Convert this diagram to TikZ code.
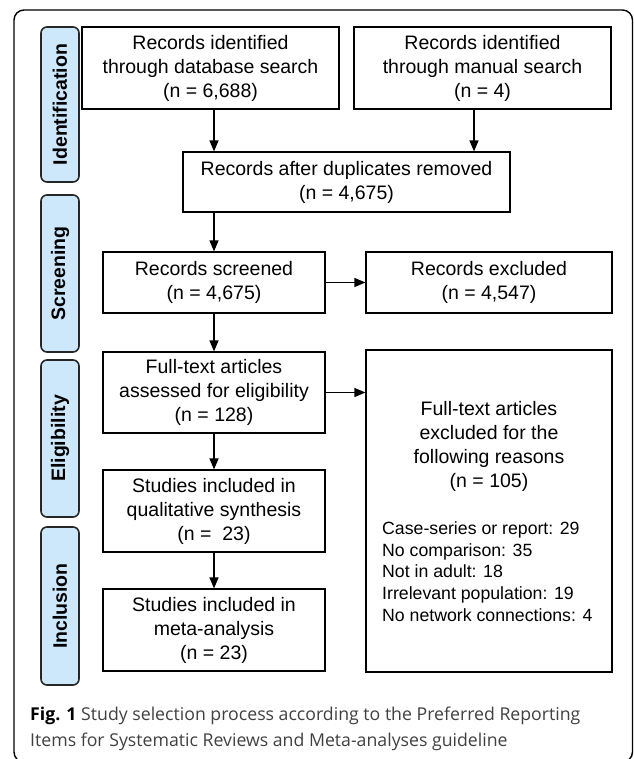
\documentclass[tikz,border=0pt]{standalone}
\usepackage{fontspec}
\setmainfont{Liberation Sans}
\newfontfamily\capfont{Open Sans}
\usetikzlibrary{arrows.meta}
\definecolor{sidefill}{RGB}{204,232,250}
\definecolor{captext}{RGB}{64,64,64}
\tikzstyle{box}=[draw, line width=1.2pt, inner sep=0pt, align=center, font=\fontsize{19.5}{24}\selectfont]
\tikzstyle{side}=[draw=black!85, fill=sidefill, line width=1.6pt, rounded corners=6pt, rotate=90, minimum height=38, inner sep=0pt, font=\fontsize{19.5}{24}\selectfont\bfseries]
\tikzstyle{arr}=[line width=1.3pt, -{Triangle[length=11pt, width=9pt]}]
\tikzstyle{frame}=[line width=1.4pt, rounded corners=10pt]
\tikzstyle{capline}=[anchor=base west, inner sep=0pt, text=captext, font=\capfont\fontsize{17.7}{26}\selectfont]

\begin{document}
\begin{tikzpicture}[x=1pt, y=-1pt]
\useasboundingbox (0,0) rectangle (633,759);
\draw [frame] (14,10) rectangle (632.5,762);

\coordinate (cdb) at (210.5, 68);
\coordinate (cman) at (482.5, 68);
\coordinate (cdup) at (346.5, 182);
\coordinate (cscr) at (214, 282.5);
\coordinate (cexc) at (489, 282.5);
\coordinate (cft) at (214, 392.5);
\coordinate (crsn) at (489, 511);
\coordinate (cqual) at (214, 511);
\coordinate (cmeta) at (214, 630);
\coordinate (mx) at (474, 0);

% phases
\draw (60, 104.5) node (ident) [side, minimum width=155] {Identification};
\draw (60, 273.5) node (screen) [side, minimum width=157] {Screening};
\draw (60, 438.5) node (elig) [side, minimum width=157] {Eligibility};
\draw (60, 606) node (incl) [side, minimum width=158] {Inclusion};

% boxes
\draw (cdb) node (db) [box, minimum width=257, minimum height=82] {Records identified\\through database search\\(n = 6,688)};
\draw (cman) node (man) [box, minimum width=257, minimum height=82] {Records identified\\through manual search\\(n = 4)};
\draw (cdup) node (dup) [box, minimum width=327, minimum height=60] {Records after duplicates removed\\(n = 4,675)};
\draw (cscr) node (scr) [box, minimum width=222, minimum height=61] {Records screened\\(n = 4,675)};
\draw (cexc) node (exc) [box, minimum width=246, minimum height=61] {Records excluded\\(n = 4,547)};
\draw (cft) node (ft) [box, minimum width=222, minimum height=81] {Full-text articles\\assessed for eligibility\\(n = 128)};
\draw (cqual) node (qual) [box, minimum width=222, minimum height=82] {Studies included in\\qualitative synthesis\\(n = \ 23)};
\draw (cmeta) node (meta) [box, minimum width=222, minimum height=82] {Studies included in\\meta-analysis\\(n = 23)};
\draw (crsn) node (rsn) [box, minimum width=246, minimum height=322] {};
\draw (489, 446) node (rsnhead) [align=center, inner sep=0pt, font=\fontsize{19.5}{24}\selectfont] {Full-text articles\\excluded for the\\following reasons\\(n = 105)};
\draw (382, 571.5) node (rsnlist) [anchor=west, align=left, inner sep=0pt, font=\fontsize{17.7}{21.7}\selectfont] {Case-series or report: 29\\No comparison: 35\\Not in adult: 18\\Irrelevant population: 19\\No network connections: 4};

% arrows
\draw [arr] (db.south -| scr) -- (dup.north -| scr);
\draw [arr] (man.south -| mx) -- (dup.north -| mx);
\draw [arr] (dup.south -| scr) -- (scr.north);
\draw [arr] (scr.east) -- (exc.west);
\draw [arr] (scr.south) -- (ft.north);
\draw [arr] (ft.east) -- (ft.east -| rsn.west);
\draw [arr] (ft.south) -- (qual.north);
\draw [arr] (qual.south) -- (meta.north);

% caption
\draw (30, 720) node (cap1) [capline] {{\bfseries\color{black}Fig. 1} Study selection process according to the Preferred Reporting};
\draw (30, 746) node (cap2) [capline] {Items for Systematic Reviews and Meta-analyses guideline};

\end{tikzpicture}
\end{document}
